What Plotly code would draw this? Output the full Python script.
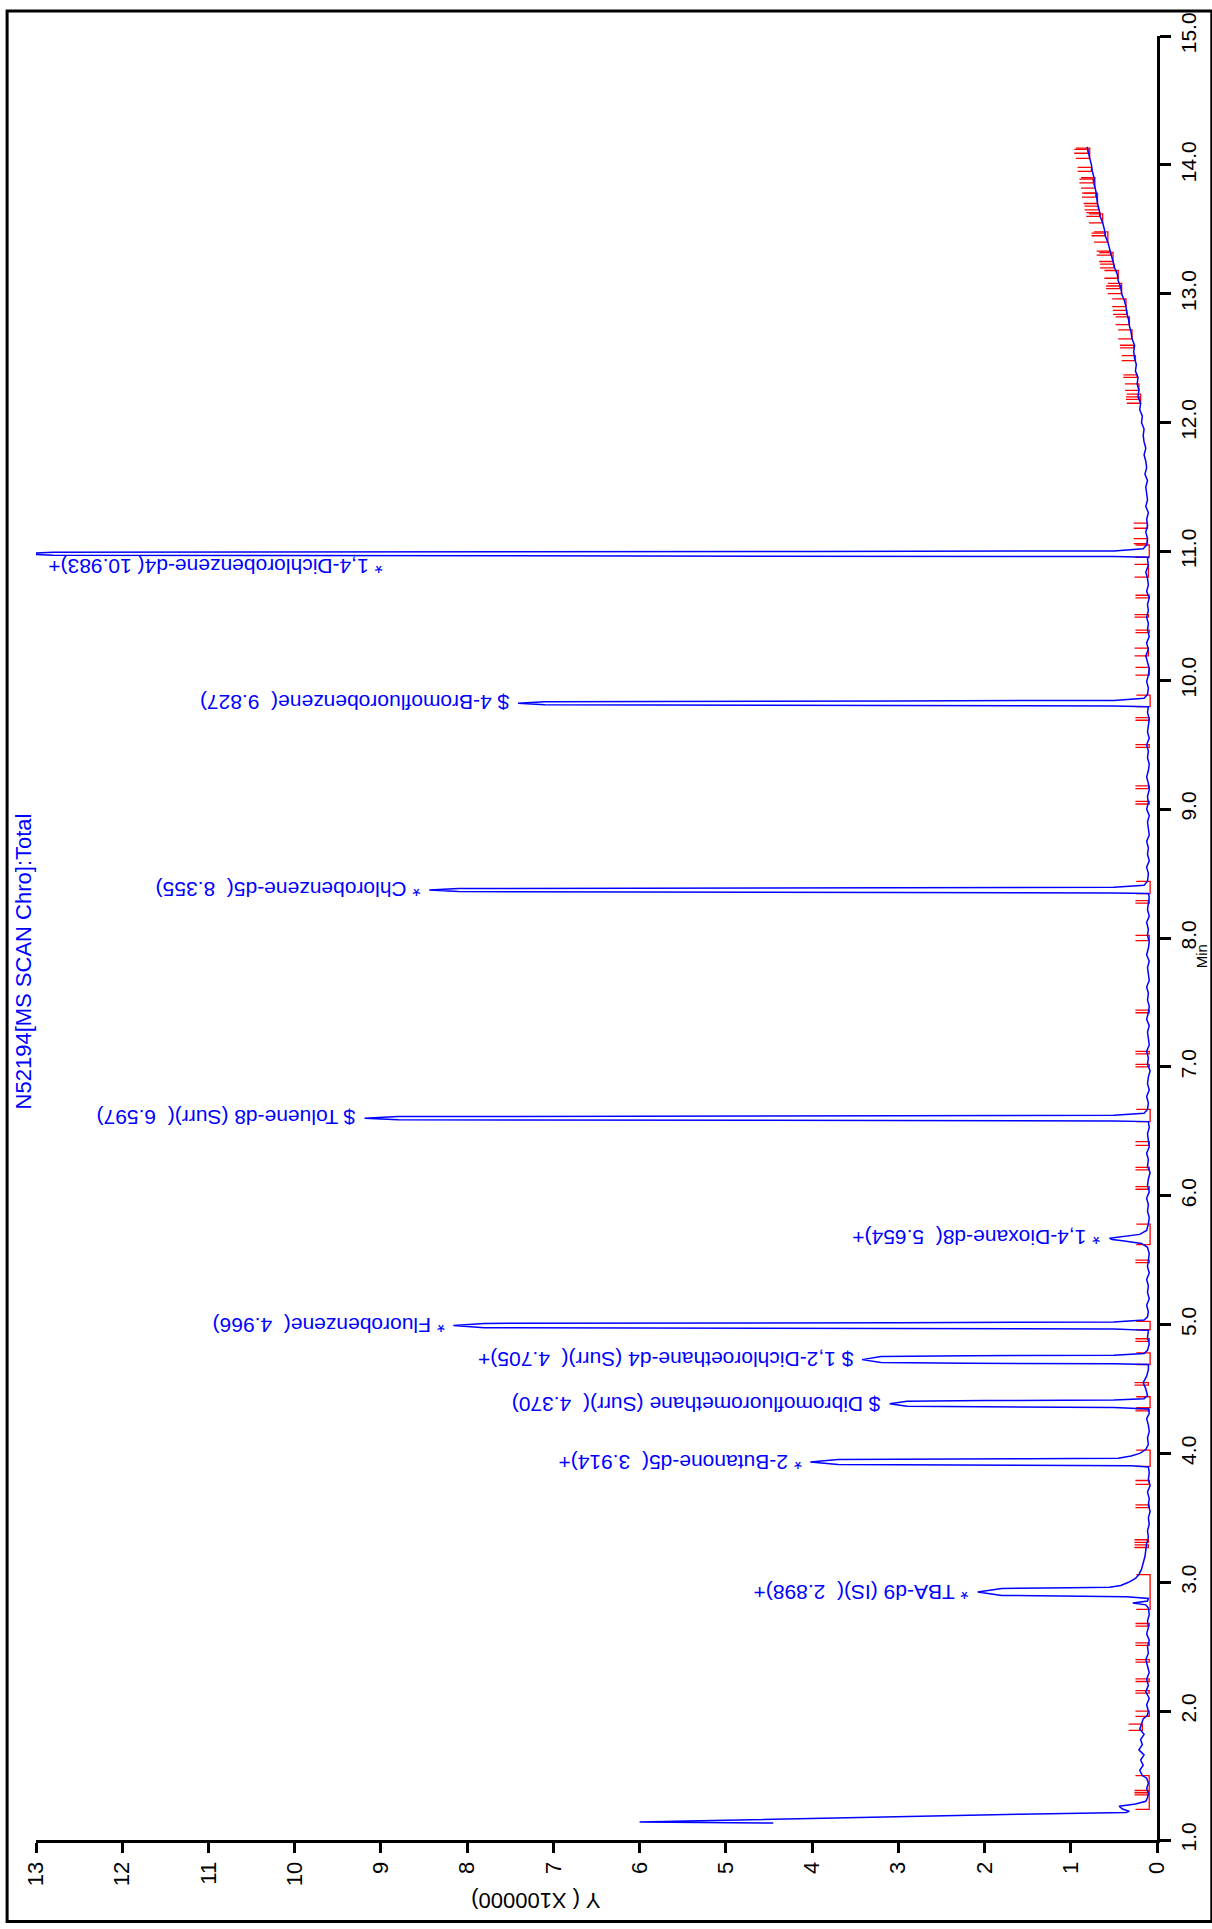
import plotly.graph_objects as go

# ---------------- data (intensity in units of 100000, time in minutes) ----------------
TIME_A = [1.132, 1.140, 1.148, 1.165, 1.185, 1.200, 1.214, 1.222, 1.240, 1.262, 1.280, 1.300, 1.330, 1.360, 1.400,
          1.440, 1.480, 1.500, 1.540, 1.580, 1.620, 1.660, 1.700, 1.740, 1.780, 1.820, 1.860, 1.900, 1.940, 1.970, 2.000]
INT_A = [4.45, 6.00, 5.45, 4.20, 3.00, 1.60, 0.36, 0.32, 0.40, 0.44, 0.25, 0.13, 0.11, 0.10, 0.12,
         0.10, 0.12, 0.17, 0.20, 0.16, 0.19, 0.15, 0.21, 0.17, 0.19, 0.15, 0.20, 0.18, 0.16, 0.11, 0.10]

TIME_B = [2.05, 2.10, 2.15, 2.20, 2.25, 2.30, 2.35, 2.40, 2.45, 2.50, 2.55, 2.60, 2.65, 2.70, 2.75, 2.80,
          2.825, 2.840, 2.855, 2.875,
          2.888, 2.892, 2.898, 2.925, 2.952, 2.957, 2.962, 2.975, 3.000, 3.030, 3.060, 3.100, 3.150, 3.200,
          3.250, 3.300, 3.350]
INT_B = [0.12, 0.09, 0.13, 0.10, 0.12, 0.09, 0.11, 0.13, 0.10, 0.11, 0.09, 0.12, 0.10, 0.11, 0.09, 0.10,
         0.13, 0.28, 0.11, 0.10,
         0.35, 1.00, 1.80, 2.08, 1.80, 1.00, 0.55, 0.42, 0.33, 0.25, 0.21, 0.18, 0.16, 0.14,
         0.13, 0.12, 0.10]

TIME_C = [3.40, 3.45, 3.50, 3.55, 3.60, 3.65, 3.70, 3.75, 3.80, 3.85, 3.895,
          3.905, 3.909, 3.915, 3.934, 3.953, 3.959, 3.963, 3.980, 4.000, 4.030,
          4.07, 4.12, 4.17, 4.22, 4.27, 4.31, 4.345,
          4.356, 4.360, 4.366, 4.385, 4.404, 4.410, 4.414, 4.425, 4.450,
          4.50, 4.55, 4.60, 4.65, 4.690,
          4.695, 4.699, 4.705, 4.728, 4.752, 4.758, 4.762, 4.775, 4.80,
          4.85, 4.90, 4.955,
          4.965, 4.969, 4.975, 4.992, 5.009, 5.015, 5.020, 5.035, 5.06]
INT_C = [0.11, 0.09, 0.10, 0.08, 0.10, 0.09, 0.11, 0.08, 0.10, 0.09, 0.10,
         0.30, 1.50, 3.70, 4.02, 3.70, 1.50, 0.45, 0.30, 0.20, 0.13,
         0.10, 0.11, 0.09, 0.10, 0.12, 0.09, 0.10,
         0.50, 2.00, 2.90, 3.10, 2.90, 2.00, 0.50, 0.15, 0.11,
         0.13, 0.16, 0.12, 0.10, 0.10,
         0.50, 2.20, 3.20, 3.42, 3.20, 2.20, 0.50, 0.15, 0.11,
         0.09, 0.11, 0.10,
         0.50, 3.00, 7.80, 8.16, 7.80, 3.00, 0.50, 0.15, 0.11]

TIME_D = [5.10, 5.15, 5.20, 5.25, 5.30, 5.35, 5.40, 5.45, 5.50, 5.55, 5.60,
          5.630, 5.650, 5.660, 5.670, 5.685, 5.700, 5.730,
          5.78, 5.83, 5.88, 5.93, 5.98, 6.03, 6.08, 6.13, 6.18, 6.23, 6.28, 6.33, 6.38, 6.43, 6.48, 6.53, 6.575,
          6.580, 6.584, 6.590, 6.602, 6.614, 6.620, 6.624, 6.640, 6.670]
INT_D = [0.10, 0.12, 0.09, 0.11, 0.10, 0.12, 0.09, 0.11, 0.10, 0.09, 0.11,
         0.18, 0.40, 0.52, 0.55, 0.40, 0.20, 0.12,
         0.10, 0.09, 0.11, 0.10, 0.12, 0.09, 0.11, 0.10, 0.08, 0.11, 0.10, 0.12, 0.09, 0.10, 0.11, 0.09, 0.10,
         0.50, 3.00, 8.80, 9.19, 8.80, 3.00, 0.50, 0.15, 0.11]

TIME_E = [6.72, 6.77, 6.82, 6.87, 6.92, 6.97, 7.02, 7.07, 7.12, 7.17, 7.22, 7.27, 7.32, 7.37, 7.42, 7.47,
          7.52, 7.57, 7.62, 7.67, 7.72, 7.77, 7.82, 7.87, 7.92, 7.97, 8.02, 8.07, 8.12, 8.17, 8.22, 8.27,
          8.32, 8.345,
          8.350, 8.354, 8.360, 8.372, 8.384, 8.390, 8.394, 8.410, 8.440]
INT_E = [0.10, 0.12, 0.09, 0.11, 0.10, 0.08, 0.11, 0.10, 0.12, 0.09, 0.10, 0.11, 0.09, 0.12, 0.10, 0.09,
         0.11, 0.10, 0.12, 0.09, 0.10, 0.11, 0.09, 0.12, 0.10, 0.09, 0.11, 0.10, 0.12, 0.09, 0.11, 0.10,
         0.09, 0.10,
         0.50, 3.00, 8.10, 8.44, 8.10, 3.00, 0.50, 0.15, 0.11]

TIME_F = [8.50, 8.55, 8.60, 8.65, 8.70, 8.75, 8.80, 8.85, 8.90, 8.95, 9.00, 9.05, 9.10, 9.15, 9.20, 9.25,
          9.30, 9.35, 9.40, 9.45, 9.50, 9.55, 9.60, 9.65, 9.70, 9.75, 9.795,
          9.800, 9.804, 9.810, 9.822, 9.834, 9.840, 9.844, 9.860, 9.890]
INT_F = [0.10, 0.12, 0.09, 0.11, 0.10, 0.12, 0.09, 0.10, 0.11, 0.09, 0.12, 0.10, 0.11, 0.09, 0.10, 0.12,
         0.10, 0.09, 0.11, 0.10, 0.12, 0.09, 0.11, 0.10, 0.09, 0.11, 0.10,
         0.50, 3.00, 7.10, 7.41, 7.10, 3.00, 0.50, 0.15, 0.11]

TIME_G = [9.94, 9.99, 10.04, 10.09, 10.14, 10.19, 10.24, 10.29, 10.34, 10.39, 10.44, 10.49, 10.54, 10.59,
          10.64, 10.69, 10.74, 10.79, 10.84, 10.89, 10.94, 10.955,
          10.960, 10.964, 10.970, 10.982, 10.994, 11.000, 11.004, 11.020, 11.050]
INT_G = [0.10, 0.12, 0.10, 0.09, 0.11, 0.13, 0.10, 0.12, 0.09, 0.11, 0.10, 0.12, 0.10, 0.11,
         0.09, 0.12, 0.10, 0.11, 0.13, 0.10, 0.11, 0.10,
         0.50, 4.00, 12.80, 13.20, 12.80, 4.00, 0.50, 0.16, 0.12]

TIME_H = [11.10, 11.15, 11.20, 11.25, 11.30, 11.35, 11.40, 11.45, 11.50, 11.55, 11.60, 11.65, 11.70, 11.75,
          11.80, 11.85, 11.90, 11.95, 12.00, 12.05, 12.10, 12.15, 12.20, 12.25, 12.30, 12.35, 12.40, 12.45,
          12.50, 12.55, 12.60, 12.65, 12.70, 12.75, 12.80, 12.85, 12.90, 12.95, 13.00, 13.05, 13.10, 13.15,
          13.20, 13.25, 13.30, 13.35, 13.40, 13.45, 13.50, 13.55, 13.60, 13.65, 13.70, 13.75, 13.80, 13.85,
          13.90, 13.95, 14.00, 14.05, 14.10, 14.14]
INT_H = [0.11, 0.13, 0.11, 0.12, 0.10, 0.13, 0.11, 0.12, 0.13, 0.11, 0.14, 0.12, 0.13, 0.15,
         0.13, 0.15, 0.16, 0.15, 0.18, 0.17, 0.20, 0.19, 0.22, 0.21, 0.23, 0.22, 0.25, 0.24,
         0.26, 0.27, 0.26, 0.29, 0.30, 0.32, 0.33, 0.35, 0.36, 0.38, 0.41, 0.42, 0.45, 0.46,
         0.49, 0.51, 0.53, 0.55, 0.57, 0.60, 0.61, 0.63, 0.66, 0.67, 0.69, 0.70, 0.71, 0.73,
         0.73, 0.75, 0.76, 0.78, 0.80, 0.81]

# integration events (red)
RED_START = [1.237, 1.350, 1.370, 1.850, 1.960, 2.140, 2.230, 2.380, 2.510, 2.660,
             2.790, 3.270, 3.310, 3.580, 3.760, 3.900, 4.330, 4.355, 4.530, 4.690,
             4.870, 4.960, 5.480, 5.620, 6.050, 6.200, 6.390, 6.575, 7.000, 7.100,
             7.420, 7.980, 8.270, 8.345, 9.040, 9.160, 9.480, 9.690, 9.795, 10.040,
             10.190, 10.370, 10.490, 10.640, 10.800, 10.955, 11.060, 11.180, 12.150, 12.250,
             12.480, 12.650, 12.760, 12.900, 13.000, 13.120, 13.250, 13.400, 13.550, 13.700,
             13.820, 14.050, 12.180, 12.350, 12.580, 12.840, 13.040, 13.200, 13.300, 13.450,
             13.600, 13.650, 13.750, 13.860, 13.950, 14.090]
RED_END = [1.500, 1.365, 1.385, 1.900, 2.000, 2.160, 2.250, 2.400, 2.530, 2.680,
           3.060, 3.290, 3.330, 3.600, 3.790, 4.025, 4.345, 4.440, 4.550, 4.780,
           4.890, 5.025, 5.500, 5.780, 6.070, 6.220, 6.420, 6.670, 7.020, 7.120,
           7.440, 8.020, 8.290, 8.440, 9.060, 9.180, 9.500, 9.710, 9.885, 10.100,
           10.250, 10.390, 10.510, 10.660, 10.900, 11.050, 11.100, 11.220, 12.220, 12.300,
           12.520, 12.720, 12.820, 12.960, 13.080, 13.180, 13.320, 13.480, 13.620, 13.780,
           13.900, 14.130, 12.200, 12.370, 12.600, 12.870, 13.060, 13.230, 13.330, 13.470,
           13.630, 13.680, 13.780, 13.890, 13.980, 14.120]
RED_LEVEL = [0.09, 0.10, 0.10, 0.17, 0.09, 0.09, 0.09, 0.09, 0.09, 0.09,
             0.08, 0.10, 0.10, 0.09, 0.09, 0.08, 0.09, 0.08, 0.10, 0.08,
             0.09, 0.08, 0.09, 0.08, 0.09, 0.09, 0.09, 0.08, 0.09, 0.09,
             0.09, 0.09, 0.09, 0.08, 0.09, 0.09, 0.09, 0.09, 0.08, 0.09,
             0.10, 0.09, 0.10, 0.09, 0.10, 0.09, 0.11, 0.11, 0.19, 0.21,
             0.25, 0.29, 0.32, 0.36, 0.41, 0.45, 0.51, 0.57, 0.63, 0.69,
             0.72, 0.78, 0.20, 0.23, 0.27, 0.35, 0.43, 0.50, 0.54, 0.60,
             0.66, 0.68, 0.71, 0.74, 0.76, 0.80]

PEAK_NAMES = ["* TBA-d9 (IS)", "* 2-Butanone-d5", "$ Dibromofluoromethane (Surr)",
              "$ 1,2-Dichloroethane-d4 (Surr)", "* Fluorobenzene", "* 1,4-Dioxane-d8",
              "$ Toluene-d8 (Surr)", "* Chlorobenzene-d5", "$ 4-Bromofluorobenzene",
              "* 1,4-Dichlorobenzene-d4"]
PEAK_RT = [2.898, 3.914, 4.370, 4.705, 4.966, 5.654, 6.597, 8.355, 9.827, 10.983]
PEAK_SUFFIX = ["+", "+", "", "+", "", "+", "", "", "", "+"]

X_TICKS = list(range(0, 14))
Y_TICKS = [1.0 + i for i in range(15)]
Y_TICKTEXT = ["%.1f" % v for v in Y_TICKS]

# ---------------- assemble ----------------
def join(ts, vs):
    n = min(len(ts), len(vs))
    return list(ts[:n]), list(vs[:n])

T_ALL, I_ALL = [], []
for ts, vs in [(TIME_A, INT_A), (TIME_B, INT_B), (TIME_C, INT_C), (TIME_D, INT_D),
               (TIME_E, INT_E), (TIME_F, INT_F), (TIME_G, INT_G), (TIME_H, INT_H)]:
    a, b = join(ts, vs)
    T_ALL += a
    I_ALL += b

TICK = 0.16
red_x, red_y = [], []
for s, e, lv in zip(RED_START, RED_END, RED_LEVEL):
    red_x += [lv + TICK, lv, lv, lv + TICK, None]
    red_y += [s, s, e, e, None]

W, H = 1212, 1929
ML, MR, MT, MB = 36, 51, 27, 89
PW, PH = W - ML - MR, H - MT - MB


def pxx(px):
    return (px - ML) / PW


def pxy(py):
    return (H - MB - py) / PH


BLUE = "#0000FF"
FONT = "Liberation Sans, Arial, Helvetica, sans-serif"

fig = go.Figure()
fig.add_trace(go.Scatter(x=red_x, y=red_y, mode="lines",
                         line=dict(color="#FF0000", width=1.3), hoverinfo="skip",
                         showlegend=False, cliponaxis=True))
fig.add_trace(go.Scatter(x=I_ALL, y=T_ALL, mode="lines",
                         line=dict(color=BLUE, width=1.5), showlegend=False))

annotations = []
NBSP = "\u00a0"
for name, rt, suf in zip(PEAK_NAMES, PEAK_RT, PEAK_SUFFIX):
    cand = [(v, t) for t, v in zip(T_ALL, I_ALL) if abs(t - rt - 0.01) < 0.05]
    hmax, tapex = max(cand)
    rt_txt = ("%6.3f" % rt).replace(" ", NBSP)
    text = name + "(" + NBSP + rt_txt + ")" + suf
    if hmax > 12.5:
        xpos, ypos = 8.96, tapex - 0.10
    else:
        xpos, ypos = hmax + 0.08, tapex
    annotations.append(dict(x=xpos, y=ypos, xref="x", yref="y", text=text, showarrow=False,
                            textangle=180, xanchor="right", yanchor="middle",
                            font=dict(family=FONT, size=21, color=BLUE)))

annotations.append(dict(x=pxx(23), y=pxy(957), xref="paper", yref="paper",
                        text="N52194[MS SCAN Chro]:Total", showarrow=False, textangle=-90,
                        xanchor="center", yanchor="middle",
                        font=dict(family=FONT, size=22, color=BLUE)))
annotations.append(dict(x=pxx(538), y=pxy(1901), xref="paper", yref="paper",
                        text="Y ( X100000)", showarrow=False, textangle=180,
                        xanchor="center", yanchor="middle",
                        font=dict(family=FONT, size=22, color="black")))
annotations.append(dict(x=pxx(1206), y=pxy(952), xref="paper", yref="paper",
                        text="Min", showarrow=False, textangle=-90,
                        xanchor="center", yanchor="middle",
                        font=dict(family=FONT, size=15, color="black")))

shapes = [dict(type="rect", xref="paper", yref="paper",
               x0=pxx(7), x1=pxx(1216), y0=pxy(1922), y1=pxy(2),
               line=dict(color="black", width=3), fillcolor="rgba(0,0,0,0)")]

fig.update_layout(
    width=W, height=H,
    margin=dict(l=ML, r=MR, t=MT, b=MB, pad=0),
    paper_bgcolor="white", plot_bgcolor="white",
    showlegend=False,
    annotations=annotations,
    shapes=shapes,
    xaxis=dict(range=[13, 0], tickvals=X_TICKS, ticktext=[str(v) for v in X_TICKS],
               ticks="outside", ticklen=10, tickwidth=2.5, tickcolor="black",
               showline=True, linewidth=3, linecolor="black",
               showgrid=False, zeroline=False, tickangle=-90,
               tickfont=dict(family=FONT, size=22, color="black")),
    yaxis=dict(range=[1.0, 15.0], tickvals=Y_TICKS, ticktext=Y_TICKTEXT, side="right",
               ticks="outside", ticklen=11, tickwidth=2.5, tickcolor="black",
               showline=True, linewidth=3, linecolor="black",
               showgrid=False, zeroline=False, tickangle=-90,
               tickfont=dict(family=FONT, size=21, color="black")),
)

fig.write_html("out.html")
